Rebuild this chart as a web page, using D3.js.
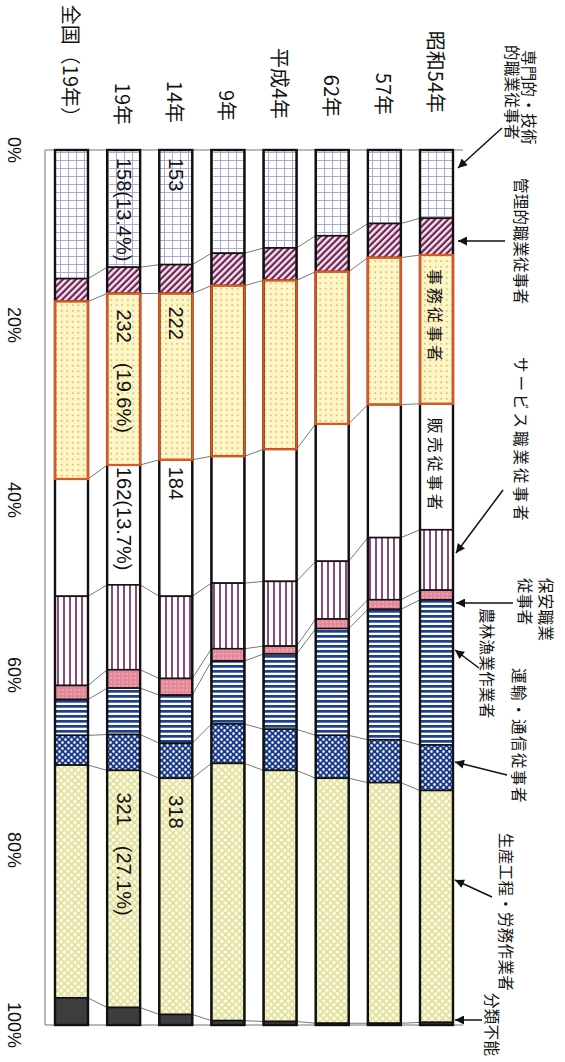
<!DOCTYPE html>
<html>
<head>
<meta charset="utf-8">
<script src="https://cdn.jsdelivr.net/npm/d3@7"></script>
<style>
html, body { margin: 0; padding: 0; background: #fff; }
svg { display: block; }
</style>
</head>
<body>
<svg id="chart" width="565" height="1062"></svg>
<script>
// categories, top to bottom of the (unrotated) chart
var categories = ["昭和54年", "57年", "62年", "平成4年", "9年", "14年", "19年", "全国（19年）"];
var occupations = ["専門的・技術的職業従事者", "管理的職業従事者", "事務従事者", "販売従事者",
    "サービス職業従事者", "保安職業従事者", "農林漁業作業者", "運輸・通信従事者",
    "生産工程・労務作業者", "分類不能"];

// shares in % per category
var senmon   = [7.8, 8.4, 9.8, 11.2, 11.8, 13.1, 13.4, 14.7];
var kanri    = [4.2, 3.9, 4.1, 3.7, 3.7, 3.3, 3.0, 2.6];
var jimu     = [17.0, 16.8, 17.4, 19.3, 19.5, 19.0, 19.6, 20.3];
var hanbai   = [14.4, 15.2, 15.7, 15.1, 14.5, 15.6, 13.7, 13.4];
var service  = [6.9, 7.1, 6.6, 7.4, 7.5, 9.4, 9.7, 10.2];
var hoan     = [1.1, 1.1, 1.1, 0.9, 1.4, 1.9, 2.1, 1.6];
var nourin   = [16.6, 14.9, 12.2, 8.6, 7.2, 5.5, 5.3, 4.1];
var unyu     = [5.2, 4.9, 4.9, 4.7, 4.5, 4.0, 4.1, 3.4];
var seisan   = [26.5, 27.5, 28.0, 28.7, 29.4, 27.0, 27.1, 26.6];
var fumei    = [0.3, 0.2, 0.2, 0.4, 0.5, 1.2, 2.0, 3.1];
var seriesValues = [senmon, kanri, jimu, hanbai, service, hoan, nourin, unyu, seisan, fumei];

// numbers written inside the bars
var labelCats  = ["19年", "19年", "19年", "19年", "14年", "14年", "14年", "14年"];
var labelOccs  = [0, 2, 3, 8, 0, 2, 3, 8];
var labelTexts = ["158(13.4%)", "232　(19.6%)", "162(13.7%)", "321　(27.1%)", "153", "222", "184", "318"];
var labelPad   = [8, 16, 2, 22, 8, 13, 7, 17];

var tickValues = [0, 20, 40, 60, 80, 100];

// the whole chart is printed turned a quarter clockwise:
// draw it landscape (u along the value axis, v across) and rotate the group
var svg = d3.select("#chart");
var defs = svg.append("defs");
var g = svg.append("g").attr("transform", "translate(565,0) rotate(90)");

var x = d3.scaleLinear().domain([0, 100]).range([150, 1025]);
var y = d3.scalePoint().domain(categories).range([128.5, 493.5]);
var barW = 33;

var rows = categories.map(function(c, i) {
    var r = {cat: c};
    occupations.forEach(function(o, j) { r[o] = seriesValues[j][i]; });
    return r;
});
var stacked = d3.stack().keys(occupations)(rows);

// ---- patterns
function pattern(id, w, h, bg) {
    var p = defs.append("pattern").attr("id", id)
        .attr("patternUnits", "userSpaceOnUse").attr("width", w).attr("height", h);
    p.append("rect").attr("width", w).attr("height", h).attr("fill", bg);
    return p;
}
var p0 = pattern("p0", 8, 8, "#ffffff");
p0.append("path").attr("d", "M0,0.5H8M0.5,0V8").attr("stroke", "#a3a3c9").attr("stroke-width", 0.9);

var p1 = pattern("p1", 4.6, 4.6, "#f6e4ee").attr("patternTransform", "rotate(45)");
p1.append("rect").attr("width", 4.6).attr("height", 2.2).attr("fill", "#6c2352");

var p2 = pattern("p2", 5.5, 5.5, "#fdf6c9");
p2.append("circle").attr("cx", 2.75).attr("cy", 2.75).attr("r", 0.95).attr("fill", "#dcb64a");

var p3 = pattern("p3", 10, 10, "#ffffff");

var p4 = pattern("p4", 6, 6, "#ffffff");
p4.append("rect").attr("y", 2.2).attr("width", 6).attr("height", 1.6).attr("fill", "#6e1f5a");

var p5 = pattern("p5", 4, 4, "#e5899a");
p5.append("circle").attr("cx", 2).attr("cy", 2).attr("r", 0.7).attr("fill", "#f7d0d6");

var p6 = pattern("p6", 5, 5, "#ffffff");
p6.append("rect").attr("width", 2.7).attr("height", 5).attr("fill", "#1d3f8c");

var p7 = pattern("p7", 6, 6, "#1a3a8a");
p7.append("circle").attr("cx", 1.5).attr("cy", 1.5).attr("r", 1.3).attr("fill", "#ffffff");
p7.append("circle").attr("cx", 4.5).attr("cy", 4.5).attr("r", 1.3).attr("fill", "#ffffff");

var p8 = pattern("p8", 7, 7, "#fbfae8");
p8.append("path").attr("d", "M0,0L7,7M7,0L0,7").attr("stroke", "#e2e29c").attr("stroke-width", 1.7);

var p9 = pattern("p9", 10, 10, "#3d3d3d");

defs.append("marker").attr("id", "arrow")
    .attr("viewBox", "0 0 10 10").attr("refX", 10).attr("refY", 5)
    .attr("markerUnits", "userSpaceOnUse")
    .attr("markerWidth", 12).attr("markerHeight", 9).attr("orient", "auto")
  .append("path").attr("d", "M0,0L10,5L0,10z").attr("fill", "#111");

// ---- frame
g.append("path")
    .attr("d", "M" + x(0) + ",102V520H" + x(100) + "V102")
    .attr("fill", "none").attr("stroke", "#777").attr("stroke-width", 1);

// ---- connectors between neighbouring bars
for (var k = 0; k < categories.length - 1; k++) {
    for (var j = 0; j < occupations.length - 1; j++) {
        g.append("line")
            .attr("x1", x(stacked[j][k][1])).attr("y1", y(categories[k]) + barW / 2)
            .attr("x2", x(stacked[j][k + 1][1])).attr("y2", y(categories[k + 1]) - barW / 2)
            .attr("stroke", "#555").attr("stroke-width", 0.8);
    }
}

// ---- bars
var layer = g.selectAll("g.layer")
    .data(stacked)
    .enter().append("g")
    .attr("class", "layer")
    .attr("fill", function(d, i) { return "url(#p" + i + ")"; });

layer.selectAll("rect")
    .data(function(d) { return d; })
    .enter().append("rect")
    .attr("x", function(d) { return x(d[0]); })
    .attr("y", function(d) { return y(d.data.cat) - barW / 2; })
    .attr("width", function(d) { return x(d[1]) - x(d[0]); })
    .attr("height", barW)
    .attr("stroke", "#111").attr("stroke-width", 1.6);

g.selectAll("rect.outline")
    .data(categories)
    .enter().append("rect")
    .attr("class", "outline")
    .attr("x", x(0)).attr("y", function(d) { return y(d) - barW / 2; })
    .attr("width", x(100) - x(0)).attr("height", barW)
    .attr("fill", "none").attr("stroke", "#111").attr("stroke-width", 2.4);

// 事務 segment is edged in orange
g.selectAll("rect.jimu")
    .data(stacked[2])
    .enter().append("rect")
    .attr("class", "jimu")
    .attr("x", function(d) { return x(d[0]); })
    .attr("y", function(d) { return y(d.data.cat) - barW / 2; })
    .attr("width", function(d) { return x(d[1]) - x(d[0]); })
    .attr("height", barW)
    .attr("fill", "none").attr("stroke", "#e0561f").attr("stroke-width", 2.2);

// ---- value labels in the bars
labelTexts.forEach(function(t, i) {
    var ci = categories.indexOf(labelCats[i]);
    var seg = stacked[labelOccs[i]][ci];
    g.append("text")
        .attr("x", x(seg[0]) + labelPad[i])
        .attr("y", y(labelCats[i]))
        .attr("dominant-baseline", "central")
        .style("font-family", "'Liberation Sans', Arial, 'Noto Sans CJK JP', sans-serif")
        .style("font-size", "20px")
        .attr("fill", "#111")
        .text(t);
});

// names written inside the 昭和54年 bar
[2, 3].forEach(function(j) {
    var seg = stacked[j][0];
    g.append("text")
        .attr("x", x(seg[0]) + 14)
        .attr("y", y(categories[0]) + 1)
        .attr("dominant-baseline", "central")
        .style("font-family", "'Noto Sans CJK JP', sans-serif")
        .style("font-size", "16px")
        .style("letter-spacing", "3px")
        .attr("fill", "#111")
        .text(occupations[j]);
});

// ---- category labels (the scan is slightly skewed, so the ends drift a little)
g.selectAll("text.cat")
    .data(categories)
    .enter().append("text")
    .attr("class", "cat")
    .attr("x", function(d, i) { return 113 + 2 * i; })
    .attr("y", function(d) { return y(d); })
    .attr("text-anchor", "end")
    .attr("dominant-baseline", "central")
    .style("font-family", "'Noto Sans CJK JP', sans-serif")
    .style("font-size", "20px")
    .attr("fill", "#111")
    .text(function(d) { return d; });

// ---- tick labels
g.selectAll("text.tick")
    .data(tickValues)
    .enter().append("text")
    .attr("class", "tick")
    .attr("x", function(d) { return x(d); })
    .attr("y", 551)
    .attr("text-anchor", "middle")
    .attr("dominant-baseline", "central")
    .style("font-family", "'Liberation Sans', Arial, sans-serif")
    .style("font-size", "18px")
    .attr("fill", "#111")
    .text(function(d) { return d + "%"; });

// ---- callouts on the right side (landscape: above the bars)
var notes = [
    {lines: ["専門的・技術", "的職業従事者"], u: [50, 45], v: [35, 52], arrow: [128, 63, 168, 107]},
    {lines: ["管理的職業従事者"], u: [178], v: [43], arrow: [241, 60, 241, 107]},
    {lines: ["サービス職業従事者"], u: [357], v: [43], ls: 3, arrow: [490, 62, 553, 109]},
    {lines: ["保安職業", "従事者"], u: [578, 578], v: [18, 39], arrow: [603, 52, 603, 109]},
    {lines: ["農林漁業作業者"], u: [608], v: [77], arrow: [668, 86, 650, 110]},
    {lines: ["運輸・通信従事者"], u: [668], v: [45], ls: 1.5, arrow: [775, 58, 762, 110]},
    {lines: ["生産工程・労務作業者"], u: [833], v: [58], arrow: [897, 73, 880, 110]},
    {lines: ["分類不能"], u: [993], v: [72], arrow: [1020, 83, 1020, 110]}
];
notes.forEach(function(n) {
    n.lines.forEach(function(t, i) {
        g.append("text")
            .attr("x", n.u[i]).attr("y", n.v[i])
            .attr("dominant-baseline", "central")
            .style("font-family", "'Noto Sans CJK JP', sans-serif")
            .style("font-size", "15.5px")
            .style("letter-spacing", (n.ls || 0.3) + "px")
            .attr("fill", "#111")
            .text(t);
    });
    g.append("line")
        .attr("x1", n.arrow[0]).attr("y1", n.arrow[1])
        .attr("x2", n.arrow[2]).attr("y2", n.arrow[3])
        .attr("stroke", "#111").attr("stroke-width", 1.5)
        .attr("marker-end", "url(#arrow)");
});
</script>
</body>
</html>
